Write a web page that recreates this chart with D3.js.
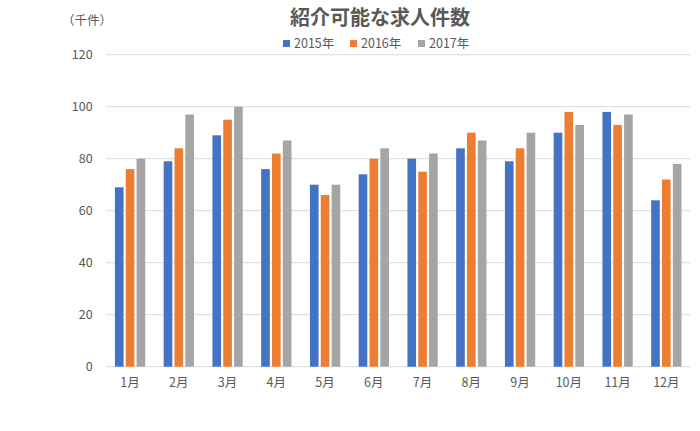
<!DOCTYPE html>
<html><head><meta charset="utf-8">
<script src="https://cdn.jsdelivr.net/npm/d3@7"></script>
<style>body{margin:0;background:#fff}svg{display:block}text{font-family:"Noto Sans CJK JP","Noto Sans",sans-serif}</style>
</head><body>
<script>
const categories = ["1月","2月","3月","4月","5月","6月","7月","8月","9月","10月","11月","12月"];
const seriesNames = ["2015年","2016年","2017年"];
const v2015 = [69,79,89,76,70,74,80,84,79,90,98,64];
const v2016 = [76,84,95,82,66,80,75,90,84,98,93,72];
const v2017 = [80,97,100,87,70,84,82,87,90,93,97,78];
const yTicks = [0,20,40,60,80,100,120];
const colors = ["#4472C4","#ED7D31","#A5A5A5"];
const series = [v2015, v2016, v2017];

const W = 700, H = 431;
const svg = d3.select("body").append("svg").attr("width", W).attr("height", H);
const mLeft = 105.7, mRight = 690.7, mTop = 54.7, mBottom = 366.7;
const x = d3.scaleBand().domain(categories).range([mLeft, mRight]).paddingInner(0).paddingOuter(0);
const y = d3.scaleLinear().domain([0,120]).range([mBottom, mTop]);
const bw = x.bandwidth() / 4.5;
const x1 = d3.scaleBand().domain(seriesNames).range([0, bw*3]);

// gridlines
svg.append("g").selectAll("line").data(yTicks).join("line")
  .attr("x1", mLeft).attr("x2", mRight)
  .attr("y1", d => y(d)).attr("y2", d => y(d))
  .attr("stroke", "#d9d9d9").attr("stroke-width", 1);

// y labels
const yAxis = d3.axisLeft(y).tickValues(yTicks).tickSize(0).tickPadding(0);
const ya = svg.append("g").attr("transform", `translate(${mLeft-13},0)`).call(yAxis);
ya.select(".domain").remove();
ya.selectAll("text").attr("fill", "#595959").style("font-size", "12.5px")
  .style("font-family", '"Noto Sans CJK JP",sans-serif');

// x labels
const xAxis = d3.axisBottom(x).tickSize(0).tickPadding(0);
const xa = svg.append("g").attr("transform", `translate(0,${mBottom+11})`).call(xAxis);
xa.select(".domain").remove();
xa.selectAll("text").attr("fill", "#595959").style("font-size", "12.5px")
  .style("font-family", '"Noto Sans CJK JP",sans-serif');

// bars
series.forEach((vals, si) => {
  svg.append("g").selectAll("rect").data(vals).join("rect")
    .attr("x", (d,i) => x(categories[i]) + bw*0.75 + x1(seriesNames[si]) + 1.1)
    .attr("width", bw - 2.2)
    .attr("y", d => y(d))
    .attr("height", d => y(0) - y(d))
    .attr("fill", colors[si]);
});

// title
svg.append("text").attr("x", 380).attr("y", 25).attr("text-anchor", "middle")
  .attr("fill", "#595959").style("font-size", "20px").style("font-weight", "bold")
  .text("紹介可能な求人件数");

// unit
svg.append("text").attr("x", 62).attr("y", 25).attr("fill", "#595959")
  .style("font-size", "12.5px").text("（千件）");

// legend
const legX = [283, 350, 418];
seriesNames.forEach((n, i) => {
  const g = svg.append("g").attr("transform", `translate(${legX[i]},44)`);
  g.append("rect").attr("x", 0).attr("y", -4).attr("width", 7).attr("height", 7).attr("fill", colors[i]);
  g.append("text").attr("x", 11).attr("y", 0).attr("dy", "0.35em").attr("fill", "#595959")
    .style("font-size", "12.5px").text(n);
});
</script>
</body></html>
